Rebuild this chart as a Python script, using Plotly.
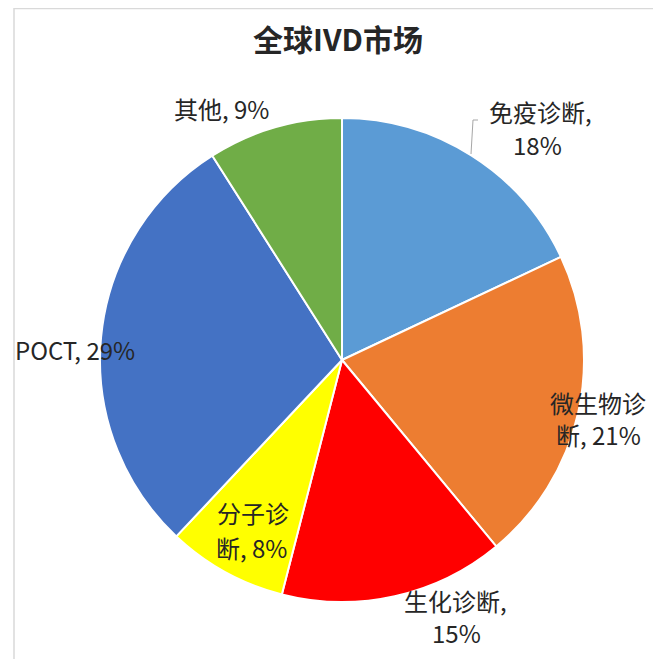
import plotly.graph_objects as go

# page body has an 8px margin, so the figure is drawn 8px in from the corner
OFF = 8
W, H = 661 - OFF, 659 - OFF

categories = ["免疫诊断", "微生物诊断", "生化诊断", "分子诊断", "POCT", "其他"]
shares = [18, 21, 15, 8, 29, 9]
colors = ["#5B9BD5", "#ED7D31", "#FF0000", "#FFFF00", "#4472C4", "#70AD47"]
label_lines = [
    ("免疫诊断,", 540, 111), ("18%", 537, 145),
    ("微生物诊", 598, 402), ("断, 21%", 598, 434),
    ("生化诊断,", 455, 600), ("15%", 456, 632),
    ("分子诊", 253, 512), ("断, 8%", 251, 547),
    ("POCT, 29%", 75, 349),
    ("其他, 9%", 221, 108),
]


def px(x):
    return (x - OFF) / W


def py(y):
    return 1 - (y - OFF) / H


fig = go.Figure(go.Pie(
    labels=categories,
    values=shares,
    sort=False,
    direction="clockwise",
    rotation=0,
    marker=dict(colors=colors, line=dict(color="white", width=2)),
    textinfo="none",
    hoverinfo="label+percent",
    domain=dict(x=[px(100), px(584)], y=[py(602), py(118)]),
    showlegend=False,
))

font_family = "Noto Sans CJK SC, Noto Sans, sans-serif"
annotations = []
for txt, x, y in label_lines:
    annotations.append(dict(
        x=px(x), y=py(y), xref="paper", yref="paper",
        text=txt, showarrow=False, xanchor="center", yanchor="middle",
        align="center", borderpad=0,
        font=dict(family=font_family, size=24, color="#262626"),
    ))
annotations.append(dict(
    x=px(338), y=py(38), xref="paper", yref="paper",
    text="<b>全球IVD市场</b>", showarrow=False, xanchor="center", yanchor="middle",
    font=dict(family=font_family, size=30, color="#262626"),
))

shapes = [
    dict(type="rect", xref="paper", yref="paper",
         x0=px(14), x1=px(720), y0=py(720), y1=py(8.5),
         line=dict(color="#D9D9D9", width=1.5), fillcolor="rgba(0,0,0,0)", layer="below"),
    dict(type="path", xref="paper", yref="paper",
         path=f"M {px(478)} {py(120)} L {px(473)} {py(120)} L {px(471)} {py(154)}",
         line=dict(color="#A6A6A6", width=1)),
]

fig.update_layout(
    width=W, height=H,
    margin=dict(l=0, r=0, t=0, b=0),
    paper_bgcolor="white", plot_bgcolor="white",
    annotations=annotations, shapes=shapes,
)

fig.write_html("out.html")
